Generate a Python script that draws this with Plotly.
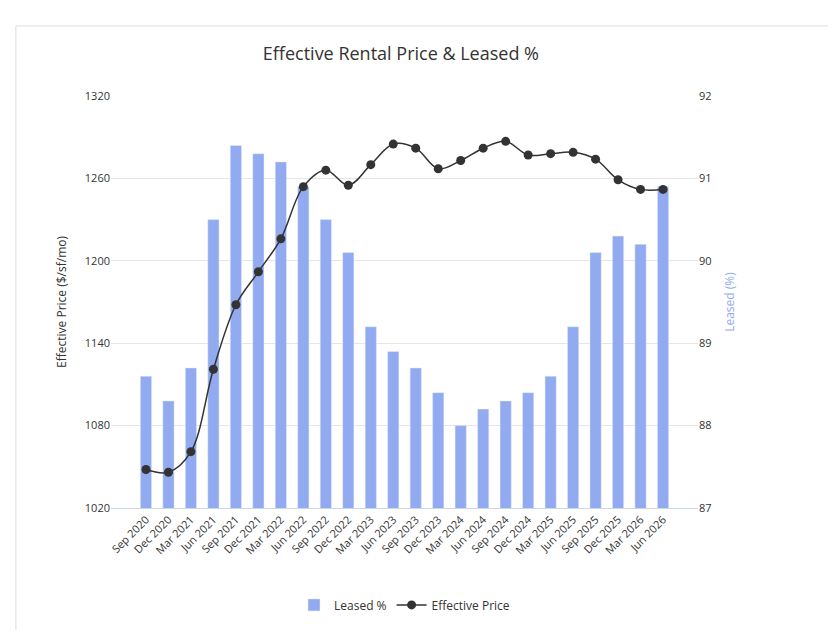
import plotly.graph_objects as go

quarters = ["Sep 2020", "Dec 2020", "Mar 2021", "Jun 2021", "Sep 2021", "Dec 2021",
            "Mar 2022", "Jun 2022", "Sep 2022", "Dec 2022", "Mar 2023", "Jun 2023",
            "Sep 2023", "Dec 2023", "Mar 2024", "Jun 2024", "Sep 2024", "Dec 2024",
            "Mar 2025", "Jun 2025", "Sep 2025", "Dec 2025", "Mar 2026", "Jun 2026"]
leased = [88.6, 88.3, 88.7, 90.5, 91.4, 91.3, 91.2, 90.9, 90.5, 90.1, 89.2, 88.9,
          88.7, 88.4, 88.0, 88.2, 88.3, 88.4, 88.6, 89.2, 90.1, 90.3, 90.2, 90.9]
price = [1048, 1046, 1061, 1121, 1168, 1192, 1216, 1254, 1266, 1255, 1270, 1285,
         1282, 1267, 1273, 1282, 1287, 1277, 1278, 1279, 1274, 1259, 1252, 1252]

fig = go.Figure()
fig.add_trace(go.Bar(x=quarters, y=leased, name="Leased %", yaxis="y",
                     marker=dict(color="#92abf0"), width=0.5))
fig.add_trace(go.Scatter(x=quarters, y=price, name="Effective Price", mode="lines+markers",
                         yaxis="y2",
                         line=dict(color="#333333", width=1.5, shape="spline"),
                         marker=dict(size=9, color="#333333")))

fig.update_layout(
    width=836, height=630,
    paper_bgcolor="white", plot_bgcolor="white",
    font=dict(family="Open Sans", size=11, color="#333333"),
    title=dict(text="Effective Rental Price & Leased %", x=0.47, y=0.928, xanchor="center",
               yanchor="middle", font=dict(size=18, color="#333333")),
    margin=dict(l=103, r=146, t=88, b=130, autoexpand=False),
    showlegend=True,
    legend=dict(orientation="h", x=0.5, xanchor="center", y=-0.2, yanchor="top",
                font=dict(size=12), traceorder="normal"),
    bargap=0.5,
    xaxis=dict(tickangle=-45, showgrid=False, showline=True, linecolor="#ccd6eb",
               ticks="", tickfont=dict(size=11)),
    yaxis=dict(range=[87, 92], tickvals=[87, 88, 89, 90, 91, 92],
               side="right", showgrid=False, zeroline=False,
               title=dict(text="Leased (%)", font=dict(size=12, color="#92abf0"))),
    yaxis2=dict(range=[1020, 1320], tickvals=[1020, 1080, 1140, 1200, 1260, 1320],
                overlaying="y", side="left",
                gridcolor="#e6e6e6", zeroline=False, showgrid=True,
                title=dict(text="Effective Price ($/sf/mo)", font=dict(size=12))),
    shapes=[dict(type="rect", xref="paper", yref="paper", x0=-0.162, x1=1.235,
                 y0=-0.315, y1=1.17, line=dict(color="#dddddd", width=1),
                 layer="below")],
)

fig.write_html("out.html")
